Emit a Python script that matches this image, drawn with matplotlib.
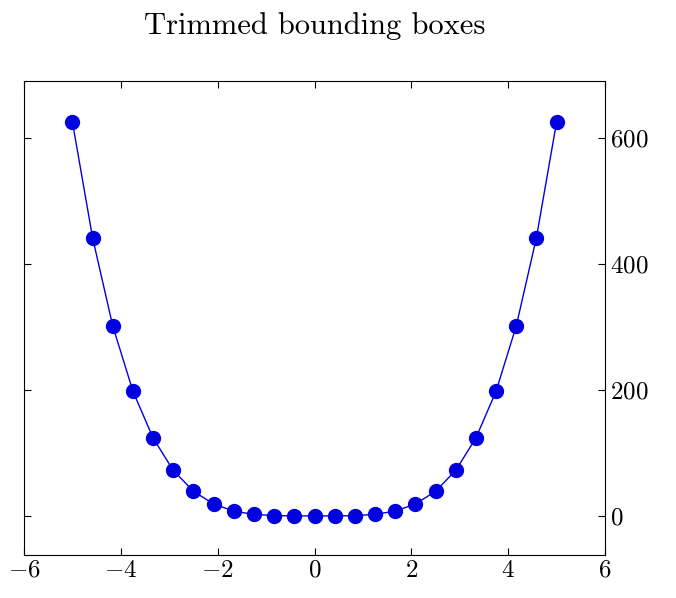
import matplotlib
matplotlib.use("Agg")
import matplotlib.pyplot as plt

plt.rcParams['font.family'] = 'serif'
plt.rcParams['font.serif'] = ['cmr10']
plt.rcParams['mathtext.fontset'] = 'cm'
plt.rcParams['axes.formatter.use_mathtext'] = True

xs = [-5.0, -4.583, -4.167, -3.75, -3.333, -2.917, -2.5, -2.083, -1.667, -1.25,
      -0.833, -0.417, 0.0, 0.417, 0.833, 1.25, 1.667, 2.083, 2.5, 2.917,
      3.333, 3.75, 4.167, 4.583, 5.0]
ys = [625.0, 441.2, 301.4, 197.8, 123.5, 72.3, 39.1, 18.8, 7.7, 2.4,
      0.5, 0.03, 0.0, 0.03, 0.5, 2.4, 7.7, 18.8, 39.1, 72.3,
      123.5, 197.8, 301.4, 441.2, 625.0]

fig = plt.figure(figsize=(6.76, 5.98), dpi=100)
ax = fig.add_axes([24/676, 43/598, 581/676, 474/598])
ax.plot(xs, ys, color='#0000e0', marker='o', markersize=10, linewidth=1)
ax.set_xlim(-6, 6)
ax.set_ylim(-62, 690)
ax.set_xticks([-6, -4, -2, 0, 2, 4, 6])
ax.set_yticks([0, 200, 400, 600])
ax.yaxis.tick_right()
ax.tick_params(direction='in', top=True, left=True, right=True, labelsize=18, length=5)
ax.set_title("Trimmed bounding boxes", fontsize=22, pad=34)
fig.savefig("out.png", dpi=100)
